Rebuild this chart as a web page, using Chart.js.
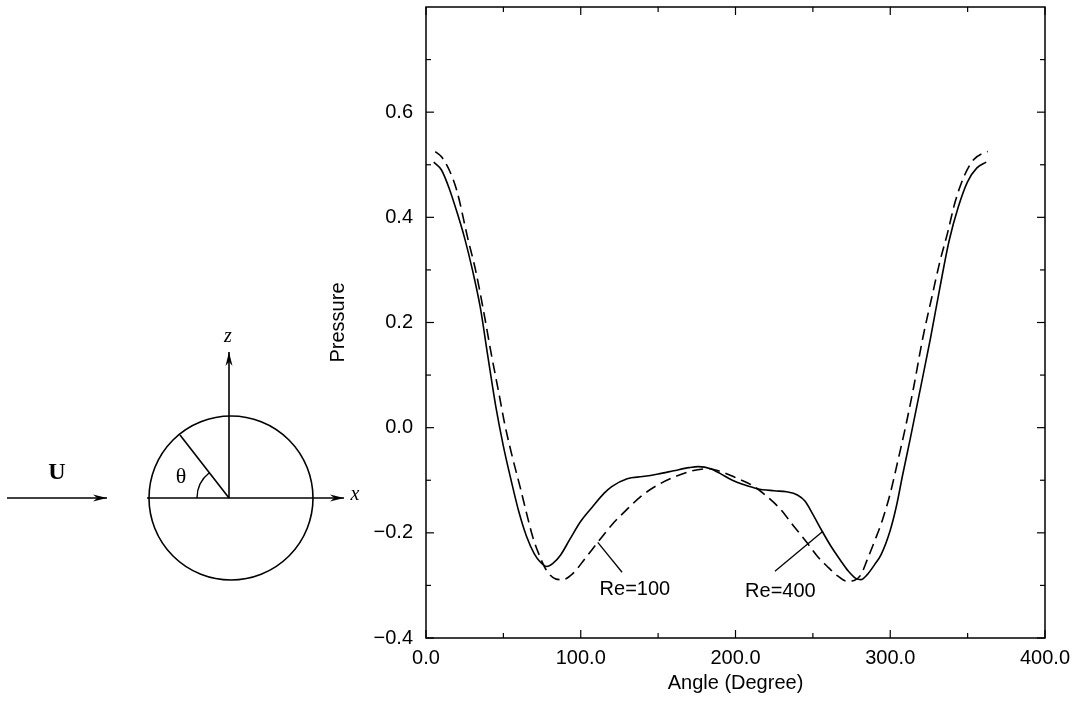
<!DOCTYPE html>
<html lang="en">
<head>
    <meta charset="UTF-8">
    <title>Pressure vs Angle</title>
    <script src="https://cdn.jsdelivr.net/npm/chart.js"></script>
    <style>
        body { margin: 0; background: #fff; }
    </style>
</head>
<body>
    <canvas id="myChart" width="1084" height="701"></canvas>

    <script>
        // Re=100 (dashed curve)
        const angles100 = [6, 10, 15, 20, 27, 32, 37, 42, 47, 51, 56, 61, 65, 69, 74, 78, 84, 88, 95, 103, 111, 120, 130, 140, 151, 162, 172, 183, 192, 200, 211, 220, 229, 237, 246, 253, 259, 266, 272, 277, 281, 285, 290, 295, 300, 305, 310, 315, 321, 327, 332, 337, 342, 348, 354, 360, 363];
        const pressure100 = [0.525, 0.515, 0.49, 0.45, 0.36, 0.30, 0.225, 0.143, 0.067, 0.005, -0.058, -0.115, -0.163, -0.208, -0.248, -0.272, -0.288, -0.289, -0.277, -0.248, -0.218, -0.185, -0.155, -0.128, -0.107, -0.092, -0.082, -0.078, -0.085, -0.095, -0.11, -0.13, -0.155, -0.185, -0.218, -0.245, -0.263, -0.282, -0.292, -0.29, -0.28, -0.252, -0.215, -0.175, -0.125, -0.062, 0.003, 0.075, 0.17, 0.25, 0.315, 0.37, 0.43, 0.48, 0.51, 0.522, 0.525];

        // Re=400 (solid curve)
        const angles400 = [5, 10, 15, 20, 25, 30, 35, 40, 45, 50, 55, 60, 65, 70, 74, 78, 82, 87, 93, 100, 108, 115, 120, 130, 140, 150, 160, 170, 176, 184, 190, 198, 205, 214, 225, 233, 240, 245, 250, 256, 262, 268, 273, 278, 281, 285, 290, 294, 300, 304, 308, 313, 320, 326, 332, 338, 344, 350, 356, 362];
        const pressure400 = [0.505, 0.49, 0.455, 0.41, 0.36, 0.30, 0.23, 0.135, 0.042, -0.035, -0.10, -0.16, -0.207, -0.24, -0.256, -0.264, -0.258, -0.242, -0.212, -0.178, -0.149, -0.125, -0.112, -0.097, -0.093, -0.088, -0.082, -0.076, -0.074, -0.078, -0.087, -0.10, -0.108, -0.116, -0.12, -0.122, -0.128, -0.14, -0.165, -0.197, -0.227, -0.253, -0.273, -0.287, -0.289, -0.28, -0.26, -0.242, -0.195, -0.149, -0.09, -0.02, 0.082, 0.17, 0.265, 0.355, 0.42, 0.468, 0.494, 0.505];

        // curve labels: text, text position, pointer start, pointer end (data units)
        const curveLabels = ['Re=100', 'Re=400'];
        const labelAt = [[135, -0.308], [229, -0.312]];
        const pointerFrom = [[126.7, -0.275], [225.5, -0.273]];
        const pointerTo = [[111, -0.218], [256.5, -0.197]];

        const xTitle = 'Angle (Degree)';
        const yTitle = 'Pressure';

        const tickFont = { family: "'Liberation Sans', Arial, sans-serif", size: 20 };

        function toPoints(xs, ys) {
            return xs.map((v, i) => ({ x: v, y: ys[i] }));
        }

        // Frame, inward ticks, curve labels and the cylinder sketch on the left
        const extras = {
            id: 'extras',
            afterDatasetsDraw(chart) {
                const { ctx, chartArea: a, scales: { x, y } } = chart;
                ctx.save();
                ctx.strokeStyle = '#000';
                ctx.fillStyle = '#000';

                ctx.lineWidth = 1.5;
                ctx.strokeRect(a.left, a.top, a.right - a.left, a.bottom - a.top);

                const seg = (x1, y1, x2, y2) => {
                    ctx.beginPath();
                    ctx.moveTo(x1, y1);
                    ctx.lineTo(x2, y2);
                    ctx.stroke();
                };

                ctx.lineWidth = 1.2;
                x.ticks.forEach(t => {
                    const px = x.getPixelForValue(t.value);
                    const len = Math.round(t.value) % 100 === 0 ? 8 : 5;
                    seg(px, a.bottom, px, a.bottom - len);
                    seg(px, a.top, px, a.top + len);
                });
                y.ticks.forEach(t => {
                    const py = y.getPixelForValue(t.value);
                    const len = Math.round(t.value * 10) % 2 === 0 ? 8 : 5;
                    seg(a.left, py, a.left + len, py);
                    seg(a.right, py, a.right - len, py);
                });

                // curve labels with pointer lines
                ctx.lineWidth = 1.3;
                ctx.font = "20px 'Liberation Sans', Arial, sans-serif";
                ctx.textAlign = 'center';
                ctx.textBaseline = 'middle';
                curveLabels.forEach((txt, i) => {
                    seg(x.getPixelForValue(pointerFrom[i][0]), y.getPixelForValue(pointerFrom[i][1]),
                        x.getPixelForValue(pointerTo[i][0]), y.getPixelForValue(pointerTo[i][1]));
                    ctx.fillText(txt, x.getPixelForValue(labelAt[i][0]), y.getPixelForValue(labelAt[i][1]));
                });

                // sketch of the cylinder and flow direction
                const arrow = (x1, y1, x2, y2) => {
                    seg(x1, y1, x2, y2);
                    const ang = Math.atan2(y2 - y1, x2 - x1);
                    const L = 14, W = 3.5;
                    ctx.beginPath();
                    ctx.moveTo(x2, y2);
                    ctx.lineTo(x2 - L * Math.cos(ang) + W * Math.sin(ang), y2 - L * Math.sin(ang) - W * Math.cos(ang));
                    ctx.lineTo(x2 - L * 0.7 * Math.cos(ang), y2 - L * 0.7 * Math.sin(ang));
                    ctx.lineTo(x2 - L * Math.cos(ang) - W * Math.sin(ang), y2 - L * Math.sin(ang) + W * Math.cos(ang));
                    ctx.closePath();
                    ctx.fill();
                };

                const cx = 229, cy = 498, r = 82;
                ctx.lineWidth = 1.6;
                ctx.beginPath();
                ctx.arc(cx + 2, cy, r, 0, Math.PI * 2);
                ctx.stroke();

                arrow(7, cy, 107, cy);
                arrow(147, cy, 344, cy);
                arrow(cx, cy, cx, 352);
                seg(cx, cy, 180, 435);

                ctx.lineWidth = 1.4;
                ctx.beginPath();
                ctx.arc(cx, cy, 32, Math.PI, Math.atan2(435 - cy, 180 - cx) + Math.PI * 2, false);
                ctx.stroke();

                ctx.textAlign = 'center';
                ctx.textBaseline = 'middle';
                ctx.font = "bold 24px 'Liberation Serif', 'DejaVu Serif', serif";
                ctx.fillText('U', 57, 473);
                ctx.font = "22px 'Liberation Serif', 'DejaVu Serif', serif";
                ctx.fillText('\u03B8', 181, 477);
                ctx.font = "italic 20px 'Liberation Serif', 'DejaVu Serif', serif";
                ctx.fillText('x', 355, 495);
                ctx.fillText('z', 228, 337);

                ctx.restore();
            }
        };

        const ctx = document.getElementById('myChart').getContext('2d');

        new Chart(ctx, {
            type: 'line',
            data: {
                datasets: [{
                    label: 'Re=100',
                    data: toPoints(angles100, pressure100),
                    borderColor: '#000',
                    borderWidth: 1.6,
                    borderDash: [11, 6],
                    pointRadius: 0,
                    cubicInterpolationMode: 'monotone',
                    fill: false
                }, {
                    label: 'Re=400',
                    data: toPoints(angles400, pressure400),
                    borderColor: '#000',
                    borderWidth: 1.6,
                    pointRadius: 0,
                    cubicInterpolationMode: 'monotone',
                    fill: false
                }]
            },
            options: {
                responsive: false,
                animation: false,
                layout: {
                    padding: { left: 318, right: 39, top: 7, bottom: 0 }
                },
                plugins: {
                    legend: { display: false },
                    tooltip: { enabled: false }
                },
                scales: {
                    x: {
                        type: 'linear',
                        min: 0,
                        max: 400,
                        afterFit: s => { s.height = 63; s.paddingLeft = 0; s.paddingRight = 0; },
                        grid: { display: false, drawTicks: false },
                        border: { display: false },
                        ticks: {
                            stepSize: 50,
                            autoSkip: false,
                            maxRotation: 0,
                            padding: 8,
                            color: '#000',
                            font: tickFont,
                            callback: v => Math.round(v) % 100 === 0 ? v.toFixed(1) : ''
                        },
                        title: {
                            display: true,
                            text: xTitle,
                            color: '#000',
                            font: tickFont,
                            padding: { top: 0, bottom: 6 }
                        }
                    },
                    y: {
                        type: 'linear',
                        min: -0.4,
                        max: 0.8,
                        afterFit: s => { s.width = 108; s.paddingTop = 0; s.paddingBottom = 0; },
                        grid: { display: false, drawTicks: false },
                        border: { display: false },
                        ticks: {
                            stepSize: 0.1,
                            autoSkip: false,
                            padding: 13,
                            color: '#000',
                            font: tickFont,
                            callback: v => {
                                const k = Math.round(v * 10);
                                if (k === 8) return null;
                                if (k % 2 !== 0) return '';
                                return (k < 0 ? '\u2212' : '') + Math.abs(k / 10).toFixed(1);
                            }
                        },
                        title: {
                            display: true,
                            text: yTitle,
                            color: '#000',
                            font: tickFont,
                            padding: { top: 8, bottom: 0 }
                        }
                    }
                }
            },
            plugins: [extras]
        });
    </script>
</body>
</html>
